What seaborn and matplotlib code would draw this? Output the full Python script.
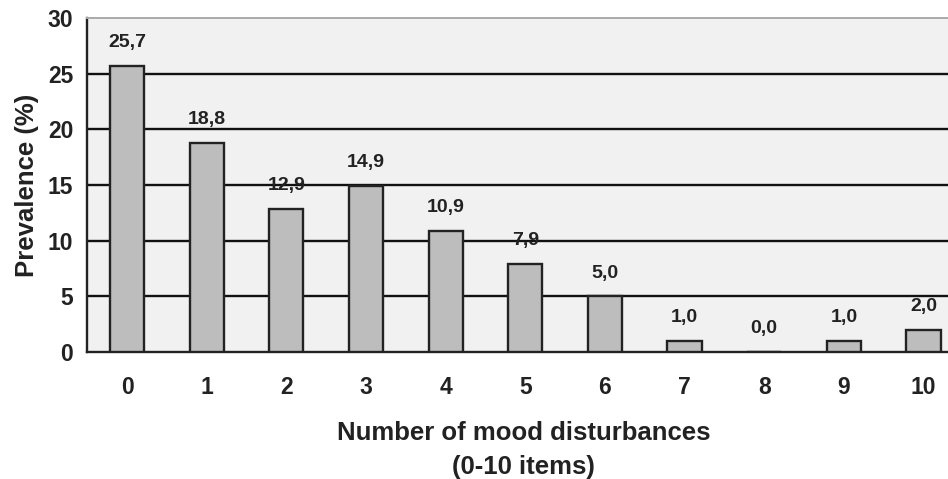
import pandas as pd
import matplotlib.pyplot as plt
import seaborn as sns

# Values
items = ['0', '1', '2', '3', '4', '5', '6', '7', '8', '9', '10']
prevalence = [25.7, 18.8, 12.9, 14.9, 10.9, 7.9, 5.0, 1.0, 0.0, 1.0, 2.0]
value_labels = ['25,7', '18,8', '12,9', '14,9', '10,9', '7,9', '5,0', '1,0', '0,0', '1,0', '2,0']
y_ticks = [0, 5, 10, 15, 20, 25, 30]

df = pd.DataFrame({'items': items, 'prevalence': prevalence})

sns.set_style('white')
plt.rcParams['font.family'] = ['Liberation Sans', 'DejaVu Sans']
plt.rcParams['font.weight'] = 'bold'

fig = plt.figure(figsize=(9.48, 4.79), dpi=100)
ax = fig.add_axes([0.092, 0.265, 0.92, 0.697])
ax.set_facecolor('#f1f1f1')

sns.barplot(data=df, x='items', y='prevalence', order=items, color='#bdbdbd',
            edgecolor='#222222', linewidth=1.7, width=0.43, saturation=1, ax=ax, zorder=3)

# horizontal grid lines
for t in y_ticks[1:-1]:
    ax.axhline(t, color='#111111', lw=1.7, zorder=1)

for i, (v, lab) in enumerate(zip(prevalence, value_labels)):
    ax.text(i, v + 2.1, lab, ha='center', va='center', fontsize=14, fontweight='bold', color='#222222')

ax.set_xlim(-0.5, 10.45)
ax.set_ylim(0, 30)
ax.set_yticks(y_ticks)
ax.set_yticklabels([str(t) for t in y_ticks], fontsize=16.5, fontweight='bold', color='#222222')
ax.set_xticks(range(len(items)))
ax.set_xticklabels(items, fontsize=16.5, fontweight='bold', color='#222222')
ax.tick_params(axis='x', which='major', length=0, pad=17)
ax.set_xticks([i - 0.5 for i in range(len(items))], minor=True)
ax.tick_params(axis='x', which='minor', length=7, width=1.7, direction='out', color='#222222')
ax.tick_params(axis='y', length=7, width=1.7, direction='out', color='#222222', pad=3)

for side in ['left', 'bottom']:
    ax.spines[side].set_color('#222222')
    ax.spines[side].set_linewidth(1.7)
ax.spines['top'].set_color('#aaaaaa')
ax.spines['top'].set_linewidth(1.4)
ax.spines['right'].set_visible(False)

ax.set_xlabel('Number of mood disturbances\n(0-10 items)', fontsize=18.5, fontweight='bold',
              labelpad=16, linespacing=1.55, color='#222222')
ax.set_ylabel('Prevalence (%)', fontsize=18.5, fontweight='bold', labelpad=6, color='#222222')

plt.savefig('out.png', dpi=100)
plt.close()
